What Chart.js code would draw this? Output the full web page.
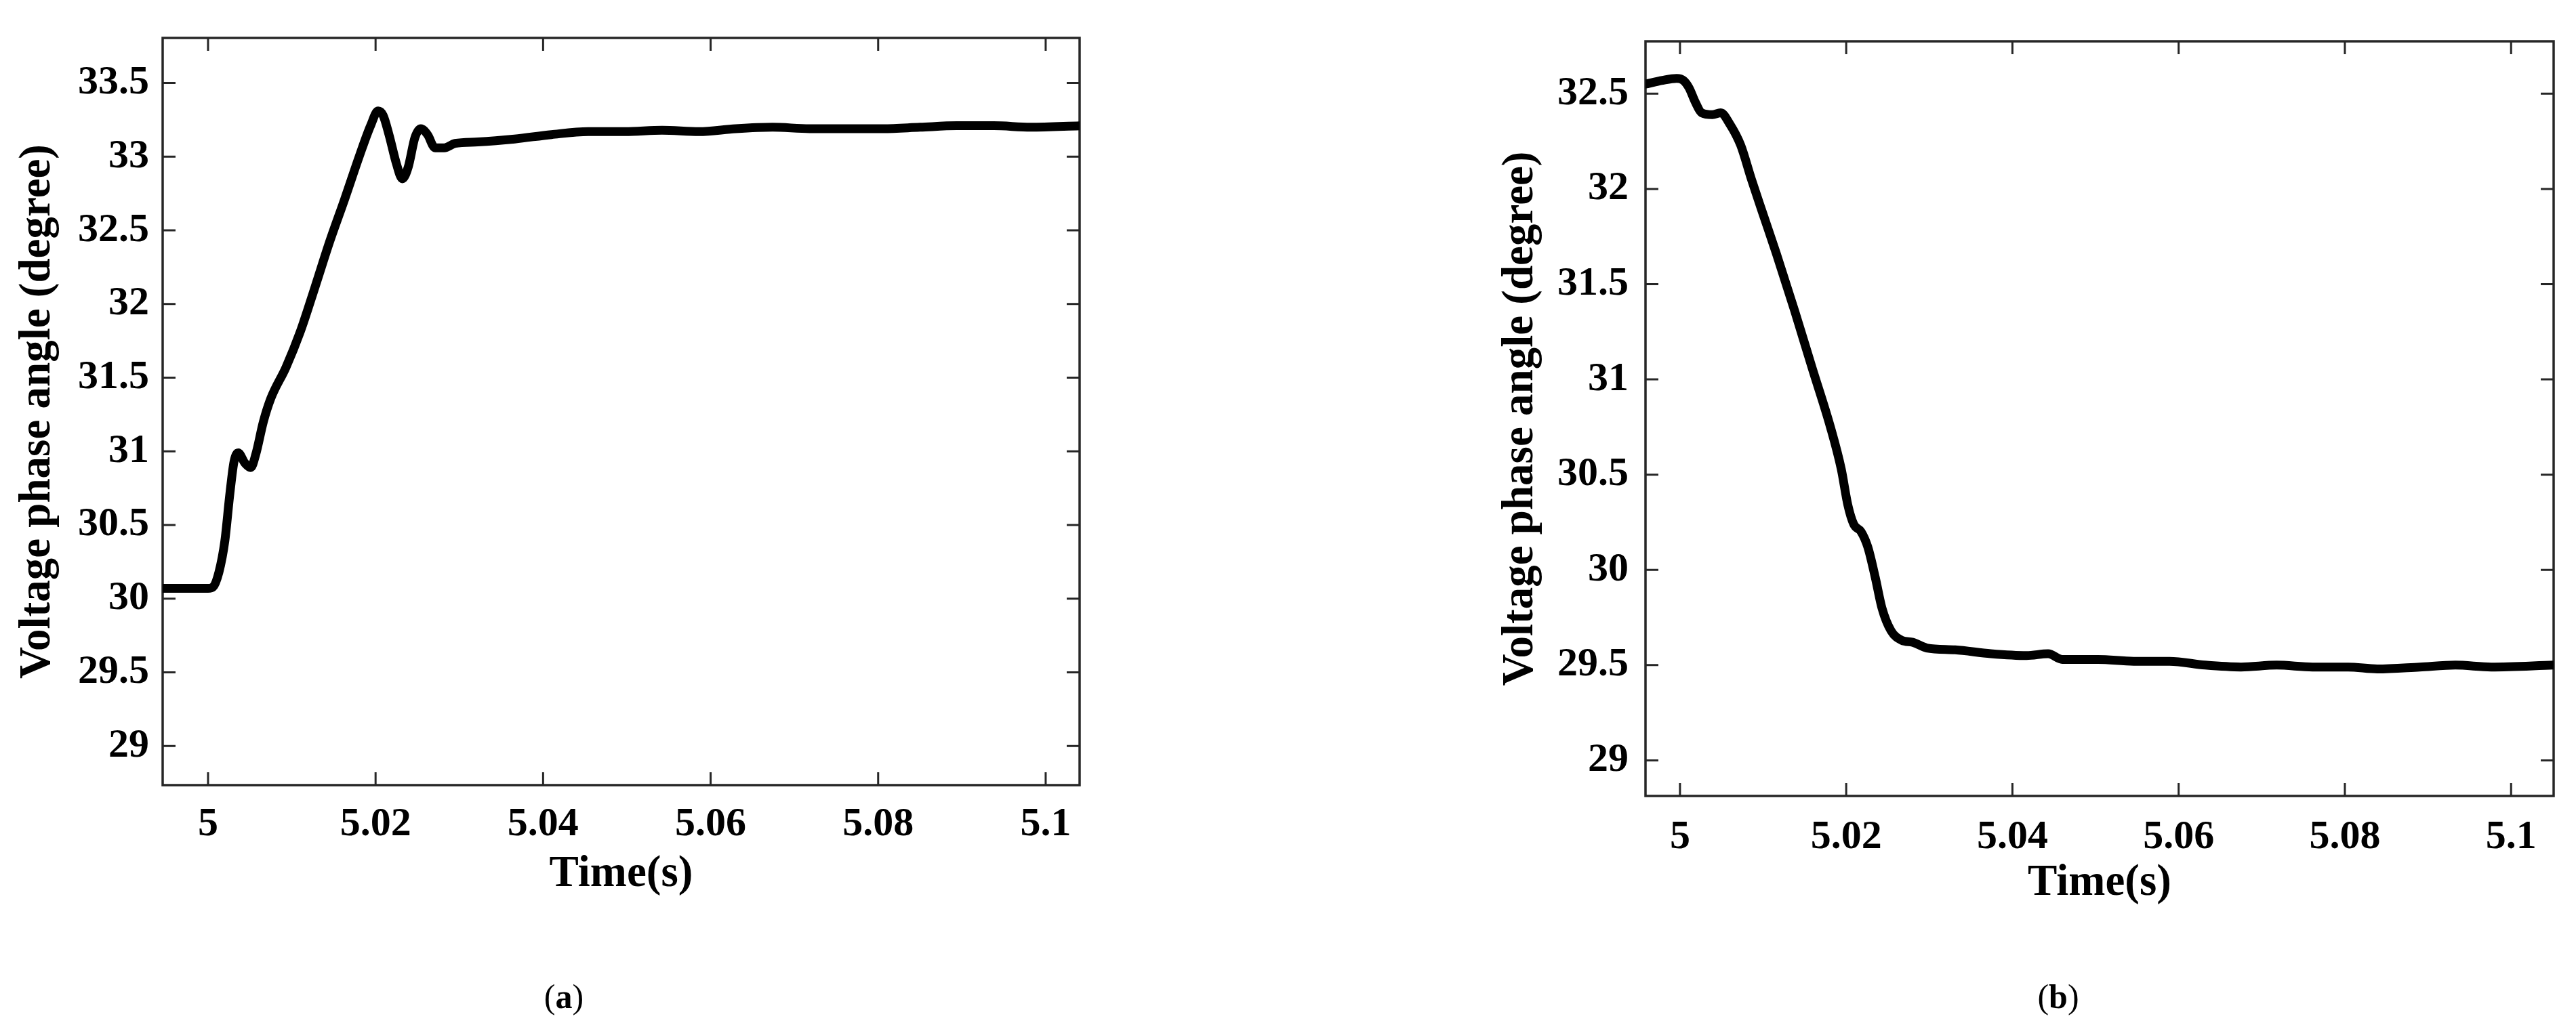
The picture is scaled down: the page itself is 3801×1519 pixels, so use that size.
<!DOCTYPE html>
<html>
<head>
<meta charset="utf-8">
<script src="https://cdn.jsdelivr.net/npm/chart.js@4.4.1/dist/chart.umd.min.js"></script>
<style>
  html, body { margin: 0; background: #fff; width: 3801px; height: 1519px; overflow: hidden; }
  .box { position: absolute; }
  .cap { position: absolute; top: 1442px; font: 50px "Liberation Serif", serif; color: #000; transform: translateX(-50%); }
</style>
</head>
<body>
<div class="box" style="left:0;top:0;width:1650px;height:1400px"><canvas id="chartA"></canvas></div>
<div class="box" style="left:2150px;top:0;width:1651px;height:1400px"><canvas id="chartB"></canvas></div>
<div class="cap" style="left:832px">(<b>a</b>)</div>
<div class="cap" style="left:3037px">(<b>b</b>)</div>
<script>
// (a) phase angle step up, (b) step down
const timeA = [4.9945, 5.0000, 5.0006, 5.0013, 5.0020, 5.0026, 5.0031, 5.0036, 5.0044, 5.0051, 5.0057, 5.0066, 5.0075, 5.0093, 5.0110, 5.0128, 5.0145, 5.0163, 5.0181, 5.0194, 5.0203, 5.0209, 5.0216, 5.0225, 5.0232, 5.0239, 5.0247, 5.0254, 5.0262, 5.0271, 5.0282, 5.0295, 5.0322, 5.0366, 5.0410, 5.0454, 5.0498, 5.0542, 5.0586, 5.0630, 5.0674, 5.0718, 5.0762, 5.0806, 5.0850, 5.0894, 5.0938, 5.0982, 5.1041];
const angleA = [30.07, 30.07, 30.08, 30.18, 30.39, 30.71, 30.93, 30.99, 30.92, 30.89, 30.98, 31.20, 31.36, 31.57, 31.81, 32.12, 32.42, 32.71, 33.01, 33.21, 33.31, 33.28, 33.15, 32.95, 32.85, 32.93, 33.13, 33.19, 33.15, 33.06, 33.06, 33.09, 33.10, 33.12, 33.15, 33.17, 33.17, 33.18, 33.17, 33.19, 33.20, 33.19, 33.19, 33.19, 33.20, 33.21, 33.21, 33.20, 33.21];

const timeB = [4.9958, 4.9979, 4.9996, 5.0004, 5.0011, 5.0018, 5.0026, 5.0039, 5.0049, 5.0060, 5.0073, 5.0086, 5.0099, 5.0116, 5.0138, 5.0159, 5.0181, 5.0194, 5.0202, 5.0209, 5.0218, 5.0226, 5.0235, 5.0243, 5.0254, 5.0267, 5.0280, 5.0297, 5.0331, 5.0374, 5.0417, 5.0443, 5.0460, 5.0503, 5.0546, 5.0589, 5.0632, 5.0675, 5.0718, 5.0761, 5.0804, 5.0839, 5.0890, 5.0933, 5.0976, 5.1051];
const angleB = [32.55, 32.57, 32.58, 32.57, 32.53, 32.46, 32.40, 32.39, 32.40, 32.34, 32.23, 32.05, 31.88, 31.66, 31.36, 31.06, 30.75, 30.53, 30.34, 30.24, 30.20, 30.12, 29.96, 29.80, 29.68, 29.63, 29.62, 29.59, 29.58, 29.56, 29.55, 29.56, 29.53, 29.53, 29.52, 29.52, 29.50, 29.49, 29.50, 29.49, 29.49, 29.48, 29.49, 29.50, 29.49, 29.50];

const xTicks = [5, 5.02, 5.04, 5.06, 5.08, 5.1];
const xTickLabels = ["5", "5.02", "5.04", "5.06", "5.08", "5.1"];
const yTicksA = [29, 29.5, 30, 30.5, 31, 31.5, 32, 32.5, 33, 33.5];
const yTickLabelsA = ["29", "29.5", "30", "30.5", "31", "31.5", "32", "32.5", "33", "33.5"];
const yTicksB = [29, 29.5, 30, 30.5, 31, 31.5, 32, 32.5];
const yTickLabelsB = ["29", "29.5", "30", "30.5", "31", "31.5", "32", "32.5"];

const $ = (id) => document.getElementById(id);
const tickFont = { family: "Liberation Serif", weight: "bold", size: 60 };
const titleFont = { family: "Liberation Serif", weight: "bold", size: 65 };

// matlab-ish box with inward ticks on all four sides
const frame = {
  id: "frame",
  beforeDatasetsDraw(chart) {
    const { ctx, chartArea: a, scales: { x, y } } = chart;
    const t = 19;
    ctx.save();
    ctx.strokeStyle = "#262626";
    ctx.lineWidth = 3.5;
    ctx.strokeRect(a.left, a.top, a.right - a.left, a.bottom - a.top);
    ctx.lineWidth = 3;
    ctx.beginPath();
    x.ticks.forEach(k => { const p = x.getPixelForValue(k.value); ctx.moveTo(p, a.bottom); ctx.lineTo(p, a.bottom - t); ctx.moveTo(p, a.top); ctx.lineTo(p, a.top + t); });
    y.ticks.forEach(k => { const p = y.getPixelForValue(k.value); ctx.moveTo(a.left, p); ctx.lineTo(a.left + t, p); ctx.moveTo(a.right, p); ctx.lineTo(a.right - t, p); });
    ctx.stroke();
    ctx.restore();
  }
};

function mk(id, xs, ys, yTicks, yLabels, o) {
  return new Chart($(id), {
    type: "line",
    data: { datasets: [{ data: xs.map((v, i) => ({ x: v, y: ys[i] })), borderColor: "#000", borderWidth: 13, pointRadius: 0, cubicInterpolationMode: "monotone", borderJoinStyle: "round", borderCapStyle: "round" }] },
    options: {
      responsive: true, maintainAspectRatio: false, animation: false, devicePixelRatio: 1,
      layout: { padding: o.pad },
      plugins: { legend: { display: false }, tooltip: { enabled: false } },
      scales: {
        x: {
          type: "linear", min: o.xMin, max: o.xMax,
          grid: { display: false, drawTicks: false }, border: { display: false },
          afterBuildTicks: s => { s.ticks = xTicks.map(v => ({ value: v })); },
          afterFit: s => { s.height = o.xH; },
          ticks: { padding: o.xPad, color: "#000", font: tickFont, maxRotation: 0, autoSkip: false, callback: (v, i) => xTickLabels[i] },
          title: { display: true, text: "Time(s)", color: "#000", font: titleFont, padding: { top: 0, bottom: o.xTitlePad } }
        },
        y: {
          type: "linear", min: o.yMin, max: o.yMax,
          grid: { display: false, drawTicks: false }, border: { display: false },
          afterBuildTicks: s => { s.ticks = yTicks.map(v => ({ value: v })); },
          afterFit: s => { s.width = o.yW; },
          ticks: { padding: o.yPad, color: "#000", font: tickFont, autoSkip: false, callback: (v, i) => yLabels[i] },
          title: { display: true, text: "Voltage phase angle (degree)", color: "#000", font: titleFont, padding: { top: o.yTitlePad, bottom: 0 } }
        }
      }
    },
    plugins: [frame]
  });
}

mk("chartA", timeA, angleA, yTicksA, yTickLabelsA, {
  xMin: 4.99458, xMax: 5.10405, yMin: 28.734, yMax: 33.806,
  pad: { left: 0, top: 33, right: 57, bottom: 61 }, yW: 240, xH: 180,
  xPad: 22, yPad: 20, xTitlePad: 9, yTitlePad: 17
});
mk("chartB", timeB, angleB, yTicksB, yTickLabelsB, {
  xMin: 4.99585, xMax: 5.10512, yMin: 28.813, yMax: 32.775,
  pad: { left: 0, top: 50, right: 33, bottom: 45 }, yW: 278, xH: 180,
  xPad: 25, yPad: 25, xTitlePad: 12, yTitlePad: 55
});
</script>
</body>
</html>
